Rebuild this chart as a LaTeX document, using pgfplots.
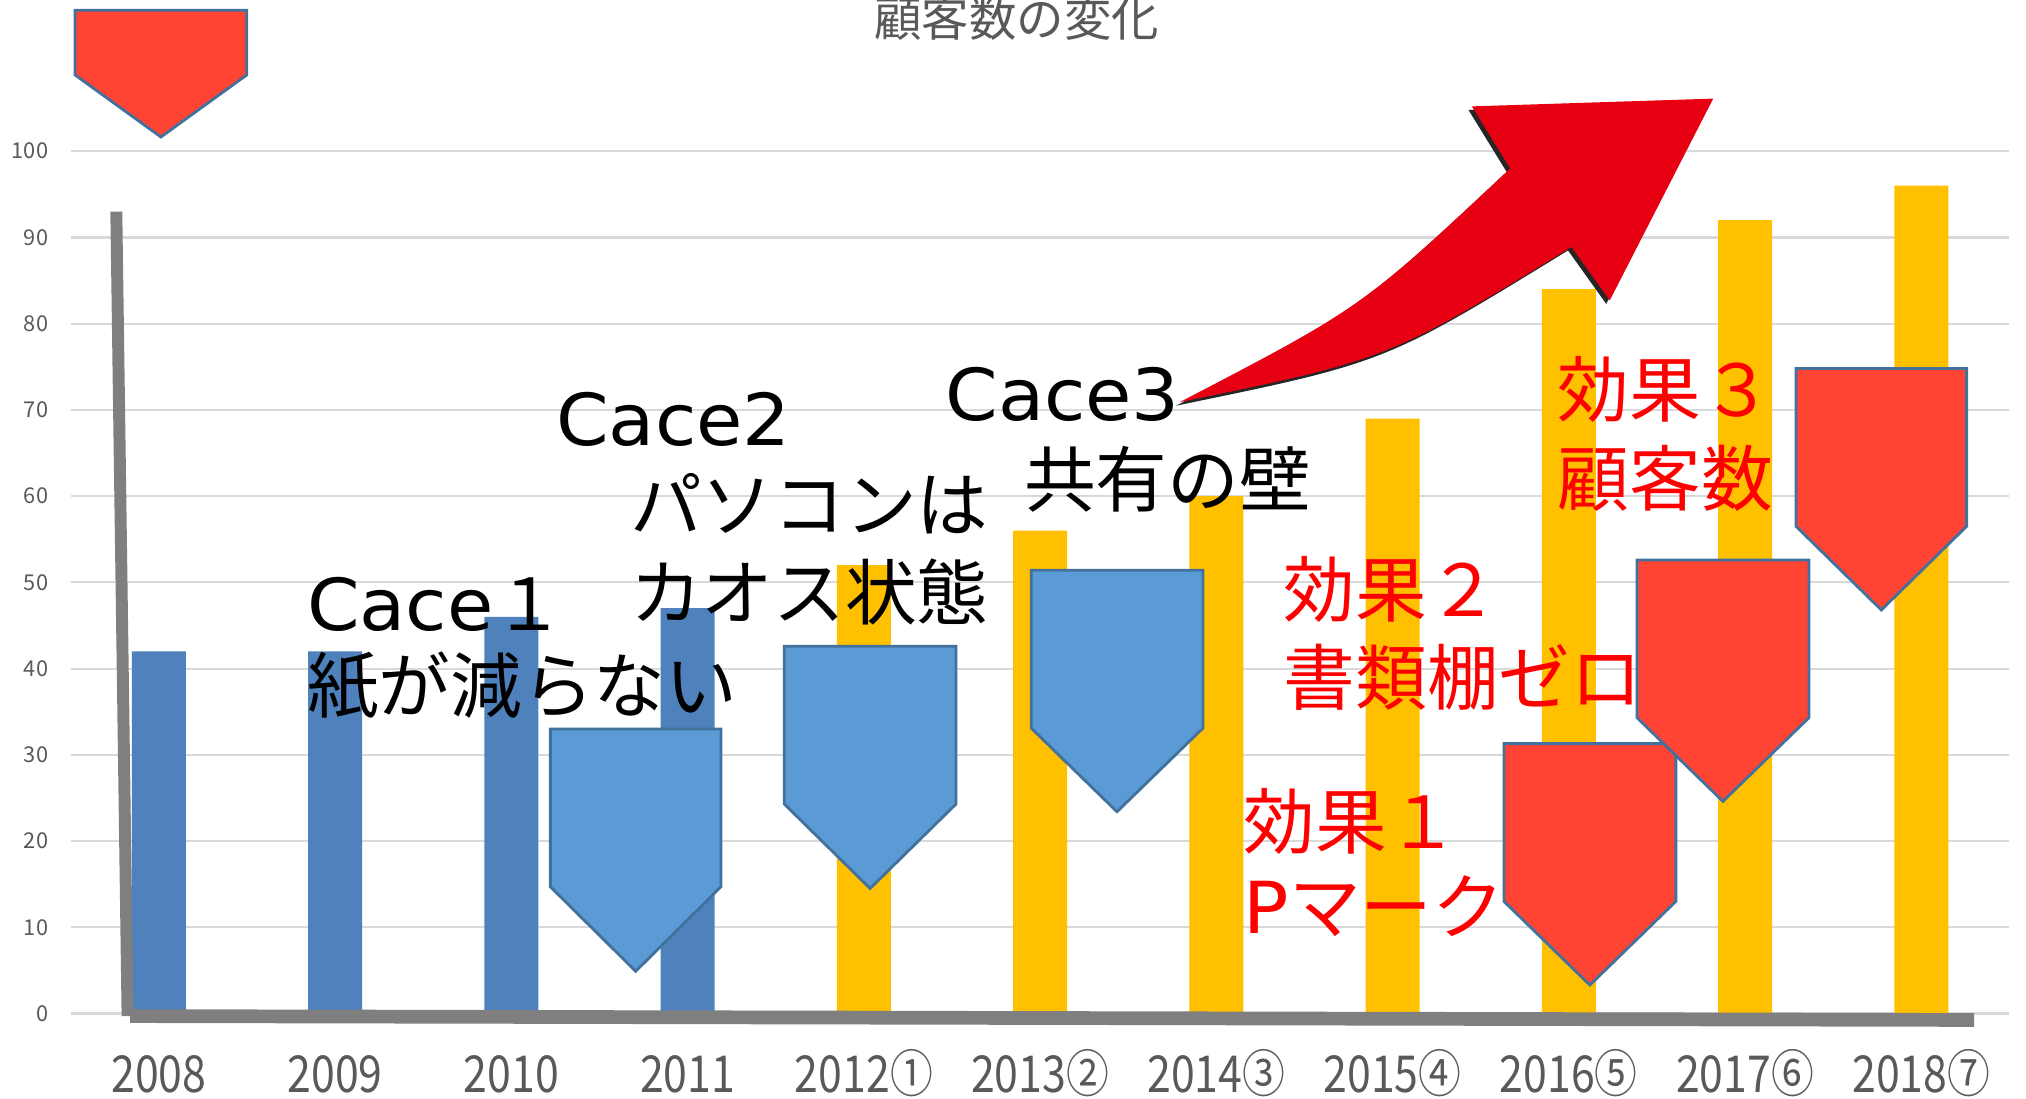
\documentclass[border=0pt]{standalone}
\usepackage{fontspec}
\setmainfont{Noto Sans CJK JP}
\newfontfamily\latin[FakeStretch=1.05]{DejaVu Sans}
\newfontfamily\tickfont[FakeStretch=0.84]{Noto Sans CJK JP}
\usepackage{pgfplots}
\pgfplotsset{compat=1.18}

\definecolor{barblue}{HTML}{4F81BD}
\definecolor{baryellow}{HTML}{FFC000}
\definecolor{pentred}{HTML}{FF4433}
\definecolor{pentblue}{HTML}{5B9BD5}
\definecolor{pentborder}{HTML}{41719C}
\definecolor{arrowred}{HTML}{E60012}
\definecolor{gridgray}{HTML}{D9D9D9}
\definecolor{tickgray}{HTML}{595959}
\definecolor{linegray}{HTML}{7F7F7F}

\newcommand{\annot}{\fontsize{20.4}{25}\selectfont}
% fill, left, right, middle, top, shoulder, point
\newcommand{\pent}[7]{%
  \draw[fill=#1, draw=pentborder, line width=0.8pt]
    (axis cs:#2,#5) -- (axis cs:#3,#5) -- (axis cs:#3,#6) -- (axis cs:#4,#7) -- (axis cs:#2,#6) -- cycle;}

\begin{document}
\begin{tikzpicture}
\begin{axis}[
    width=19.38cm, height=8.62cm, scale only axis,
    xmin=-0.5, xmax=10.5, ymin=0, ymax=100,
    clip=false,
    axis line style={draw=none},
    major tick length=0pt,
    ytick={0,10,...,100},
    ymajorgrids,
    major grid style={draw=gridgray, line width=0.6pt},
    xtick={0,...,10},
    xticklabels={2008,2009,2010,2011,2012①,2013②,2014③,2015④,2016⑤,2017⑥,2018⑦},
    xticklabel style={font=\tickfont\fontsize{14.5}{16}\selectfont, text=tickgray, anchor=base, inner sep=0pt, yshift=-0.79cm},
    yticklabel style={font=\fontsize{6.2}{7}\selectfont, text=tickgray, anchor=east, inner sep=0pt, xshift=-0.22cm},
    /pgf/number format/assume math mode=true,
  ]
  \addplot[ybar, bar width=0.54cm, bar shift=0pt, fill=barblue, draw=none]
    coordinates {(0,42) (1,42) (2,46) (3,47)};
  \addplot[ybar, bar width=0.54cm, bar shift=0pt, fill=baryellow, draw=none]
    coordinates {(4,52) (5,56) (6,60) (7,69) (8,84) (9,92) (10,96)};

  % thick gray strokes
  \draw[linegray, line width=3.4pt] (axis cs:-0.242,93.0) -- (axis cs:-0.178,-0.3);
  \draw[linegray, line width=3.9pt] (axis cs:-0.164,-0.3) -- (axis cs:10.30,-0.75);

  % title
  \node[anchor=base, inner sep=0pt, font=\fontsize{13.5}{15}\selectfont, text=tickgray]
    at (axis cs:4.868,113.3) {顧客数の変化};

  % pentagon arrows
  \pent{pentred}{-0.4765}{0.4985}{0.011}{116.34}{108.85}{101.65}
  \pent{pentblue}{2.221}{3.189}{2.705}{33.0}{14.7}{4.9}
  \pent{pentblue}{3.548}{4.523}{4.035}{42.6}{24.3}{14.5}
  \pent{pentblue}{4.949}{5.924}{5.436}{51.4}{33.1}{23.4}
  \pent{pentred}{7.632}{8.607}{8.119}{31.3}{13.0}{3.3}
  \pent{pentred}{8.387}{9.362}{8.874}{52.6}{34.3}{24.6}
  \pent{pentred}{9.289}{10.257}{9.773}{74.8}{56.5}{46.8}

  % annotations
  \node[anchor=base west, inner sep=0pt, font=\annot] at (axis cs:0.836,44.38) {{\latin Cace}１};
  \node[anchor=base west, inner sep=0pt, font=\annot] at (axis cs:0.836,34.93) {紙が減らない};
  \node[anchor=base west, inner sep=0pt, font=\annot] at (axis cs:2.251,65.82) {{\latin Cace2}};
  \node[anchor=base west, inner sep=0pt, font=\annot] at (axis cs:2.669,55.92) {パソコンは};
  \node[anchor=base west, inner sep=0pt, font=\annot] at (axis cs:2.669,45.73) {カオス状態};
  \node[anchor=base west, inner sep=0pt, font=\annot] at (axis cs:4.459,68.82) {{\latin Cace3}};
  \node[anchor=base west, inner sep=0pt, font=\annot] at (axis cs:4.905,58.77) {共有の壁};
  \node[anchor=base west, inner sep=0pt, font=\annot, text=red] at (axis cs:6.378,46.03) {効果２};
  \node[anchor=base west, inner sep=0pt, font=\annot, text=red] at (axis cs:6.378,35.83) {書類棚ゼロ};
  \node[anchor=base west, inner sep=0pt, font=\annot, text=red] at (axis cs:6.151,19.19) {効果１};
  \node[anchor=base west, inner sep=0pt, font=\annot, text=red] at (axis cs:6.151,9.30) {{\latin P}マーク};
  \node[anchor=base west, inner sep=0pt, font=\annot, text=red] at (axis cs:7.933,69.27) {効果３};
  \node[anchor=base west, inner sep=0pt, font=\annot, text=red] at (axis cs:7.933,58.92) {顧客数};

  % big curved arrow
  \fill[black!85, shift={(-1pt,-1pt)}]
    (axis cs:5.792,70.9) .. controls (axis cs:6.826,81.9) .. (axis cs:7.667,98.0)
    -- (axis cs:7.450,105.2) -- (axis cs:8.819,106.1) -- (axis cs:8.232,82.7)
    -- (axis cs:8.015,88.9) .. controls (axis cs:6.979,75.9) .. (axis cs:5.792,70.9) -- cycle;
  \fill[arrowred]
    (axis cs:5.792,70.9) .. controls (axis cs:6.826,81.9) .. (axis cs:7.667,98.0)
    -- (axis cs:7.450,105.2) -- (axis cs:8.819,106.1) -- (axis cs:8.232,82.7)
    -- (axis cs:8.015,88.9) .. controls (axis cs:6.979,75.9) .. (axis cs:5.792,70.9) -- cycle;

  \coordinate (bbll) at (axis cs:-0.902,-9.895);
  \coordinate (bbur) at (axis cs:10.594,117.54);
\end{axis}
\pgfresetboundingbox
\path[use as bounding box] (bbll) rectangle (bbur);
\end{tikzpicture}
\end{document}
